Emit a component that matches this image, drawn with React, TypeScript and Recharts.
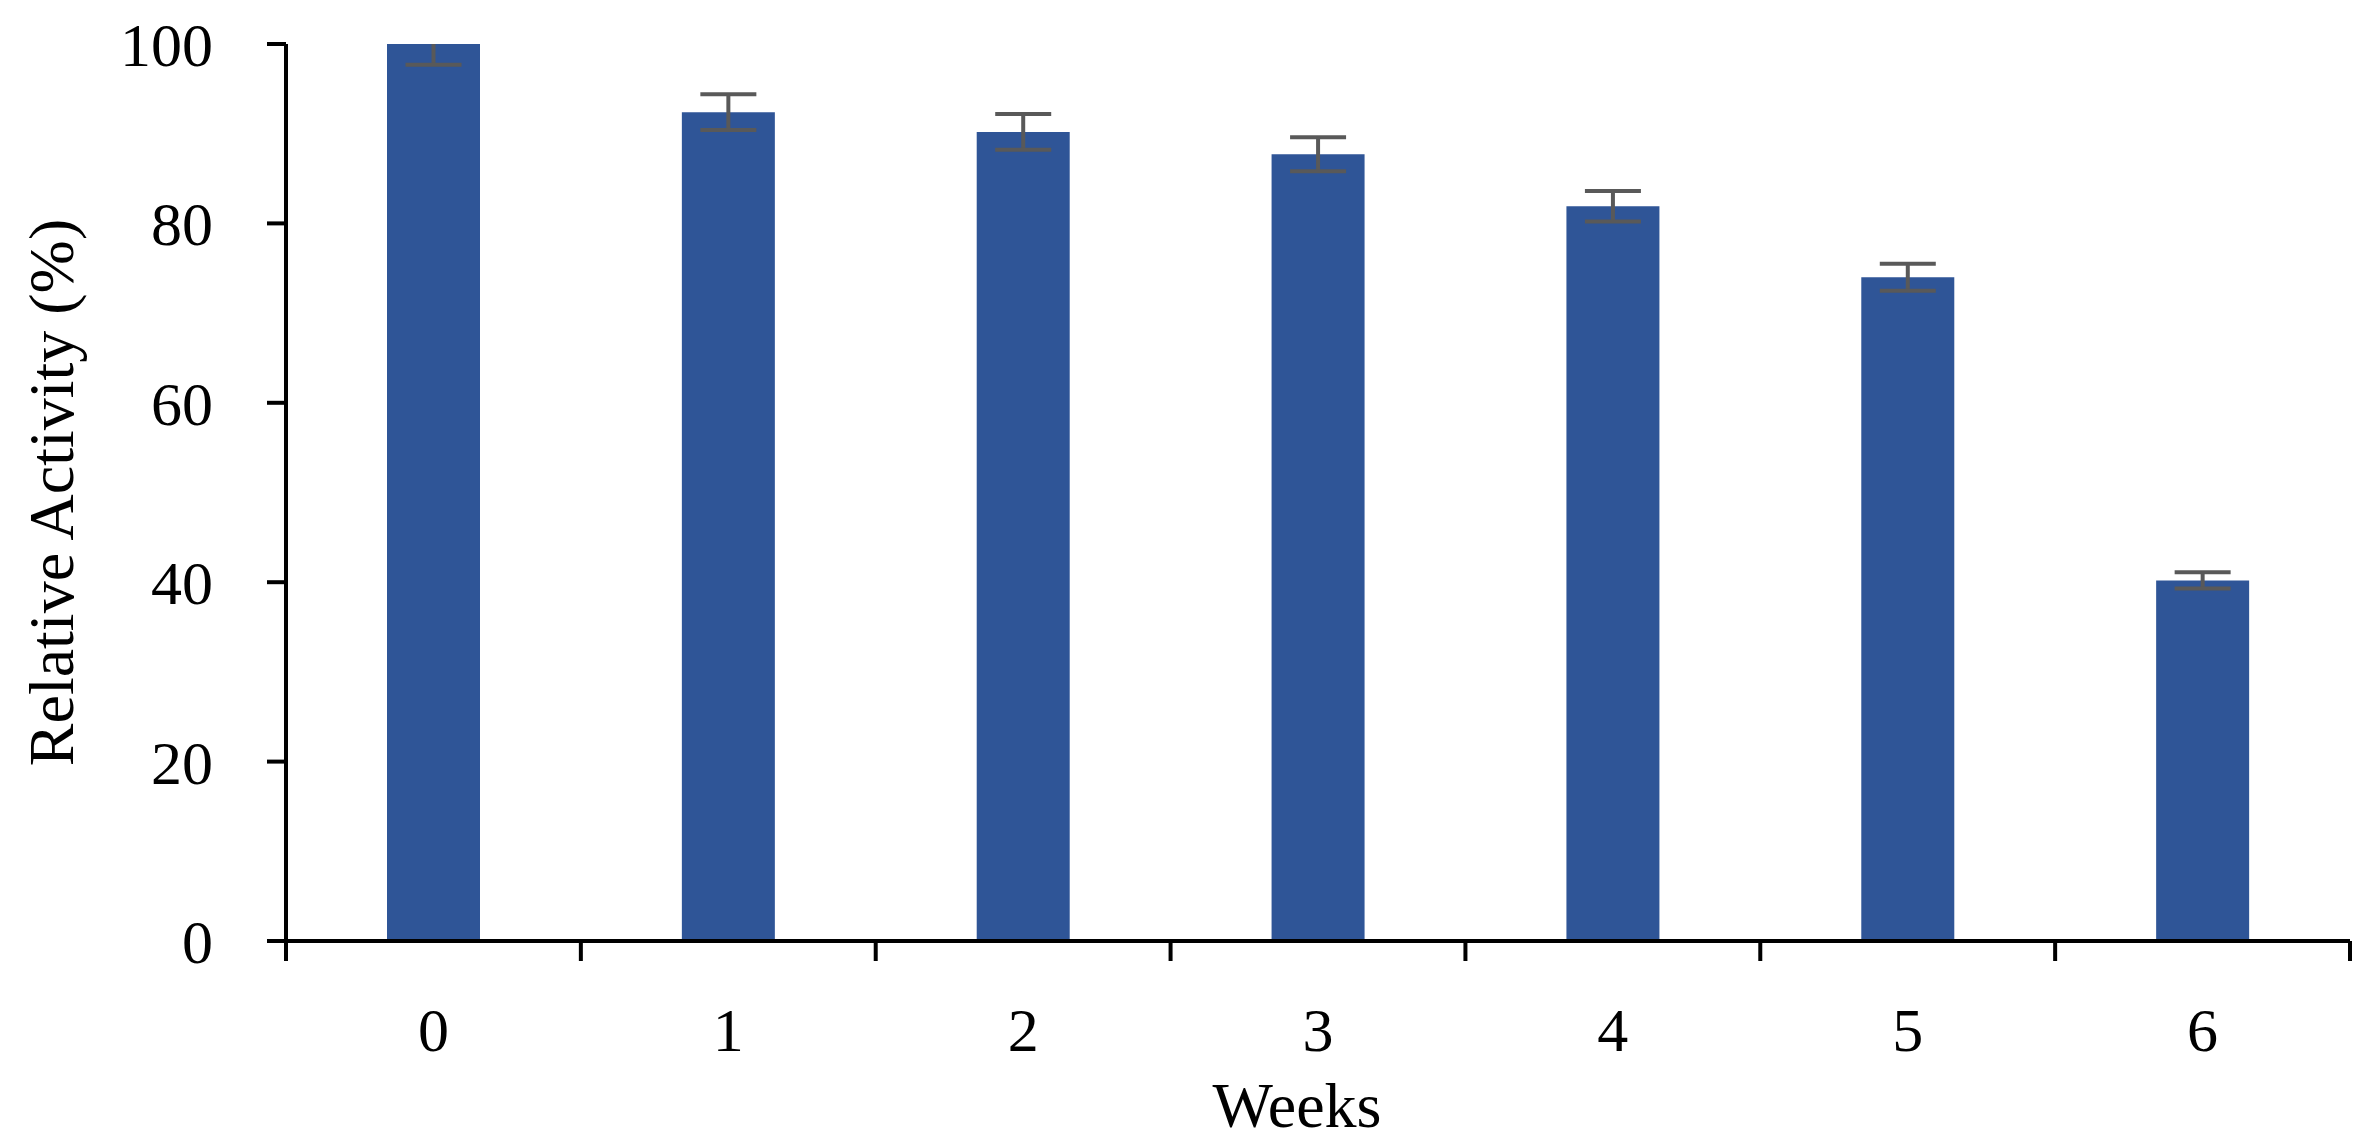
import { Bar, BarChart, ErrorBar, XAxis, YAxis } from "recharts";

const weeks = ["0", "1", "2", "3", "4", "5", "6"];
const activity = [100, 92.4, 90.2, 87.7, 81.9, 74.0, 40.2];
const errors = [2.3, 2.0, 2.0, 1.9, 1.7, 1.5, 0.9];
const yTicks = [0, 20, 40, 60, 80, 100];

const data = weeks.map((w, i) => ({ week: w, value: activity[i], err: errors[i] }));

const FONT = "'Liberation Serif', 'Times New Roman', serif";
const AXIS = "#000000";

/** Tick de categoría: etiqueta centrada y marcas en los bordes de cada banda. */
function WeekTick(props: any) {
  const { x, y, payload, index } = props;
  const half = payload?.offset ?? 147;
  return (
    <g>
      {index === 0 && (
        <line x1={x - half} y1={y} x2={x - half} y2={y + 20} stroke={AXIS} strokeWidth={4} />
      )}
      <line x1={x + half} y1={y} x2={x + half} y2={y + 20} stroke={AXIS} strokeWidth={4} />
      <text x={x} y={y + 110} textAnchor="middle" fontSize={62} fontFamily={FONT} fill="#000">
        {payload.value}
      </text>
    </g>
  );
}

export default function App() {
  return (
    <div style={{ position: "absolute", left: 0, top: 0, background: "#fff" }}>
      {/* las barras de error se recortan al área del gráfico (clipPath que crea la serie) */}
      <style>{`[class*="recharts-errorBar"] { clip-path: url(#clipPath-activity); }`}</style>
      <BarChart
        width={2372}
        height={1146}
        data={data}
        margin={{ top: 44, right: 22, left: 0, bottom: 0 }}
        barSize={93}
      >
        <XAxis
          dataKey="week"
          height={205}
          tickSize={0}
          tickMargin={0}
          tickLine={false}
          axisLine={{ stroke: AXIS, strokeWidth: 4 }}
          tick={<WeekTick />}
          interval={0}
          label={{
            value: "Weeks",
            position: "insideBottom",
            offset: 19,
            dx: -21,
            style: { fontSize: 64, fontFamily: FONT, fill: "#000" },
          }}
        />
        <YAxis
          width={286}
          domain={[0, 100]}
          ticks={yTicks}
          allowDataOverflow
          tickSize={19}
          tickMargin={54}
          tickLine={{ stroke: AXIS, strokeWidth: 4 }}
          axisLine={{ stroke: AXIS, strokeWidth: 4 }}
          tick={{ fontSize: 62, fontFamily: FONT, fill: "#000" }}
          label={{
            value: "Relative Activity (%)",
            angle: -90,
            position: "insideLeft",
            offset: 50,
            style: { textAnchor: "middle", fontSize: 64, fontFamily: FONT, fill: "#000" },
          }}
        />
        <Bar id="activity" dataKey="value" fill="#2F5597" isAnimationActive={false}>
          <ErrorBar
            dataKey="err"
            direction="y"
            width={28}
            strokeWidth={4}
            stroke="#595959"
            isAnimationActive={false}
          />
        </Bar>
      </BarChart>
    </div>
  );
}
